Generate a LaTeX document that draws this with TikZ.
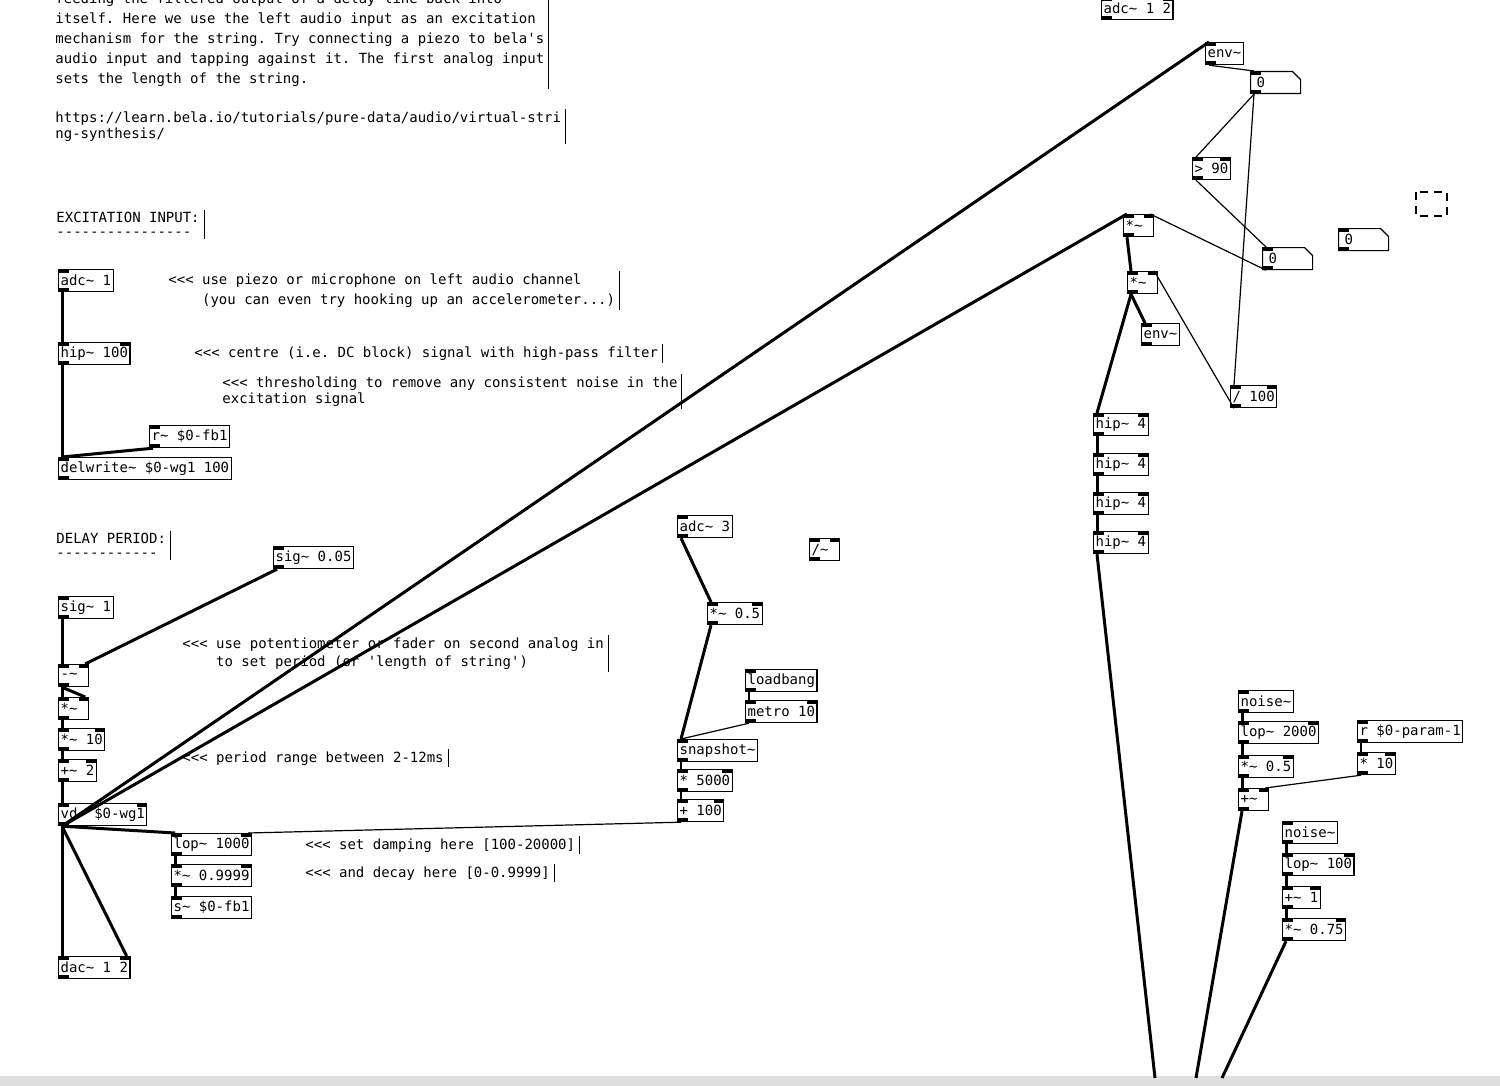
\documentclass[tikz,border=0pt]{standalone}
\usepackage{fontspec}
\setmonofont{DejaVu Sans Mono}
\usetikzlibrary{shapes.misc}
\newcommand\tl{\string~}
\begin{document}
\begin{tikzpicture}[x=0.5pt,y=-0.5pt,
  font=\ttfamily\fontsize{7}{10}\selectfont,
  box/.style={draw,line width=0.6pt,anchor=north west,minimum height=11pt,inner xsep=1pt,inner ysep=0pt,
    path picture={\fill (path picture bounding box.north west) rectangle ++(5pt,-1.6pt);
      \fill (path picture bounding box.north east) rectangle ++(-5pt,-1.6pt);
      \fill (path picture bounding box.south west) rectangle ++(5pt,1.6pt);}},
  box1/.style={draw,line width=0.6pt,anchor=north west,minimum height=11pt,inner xsep=1pt,inner ysep=0pt,
    path picture={\fill (path picture bounding box.north west) rectangle ++(5pt,-1.6pt);
      \fill (path picture bounding box.south west) rectangle ++(5pt,1.6pt);}},
  small/.style={text width=13pt,align=left},
  num/.style={draw,line width=0.6pt,anchor=north west,chamfered rectangle,chamfered rectangle corners=north east,
    chamfered rectangle xsep=2pt,chamfered rectangle ysep=2pt,
    minimum height=11pt,inner xsep=1pt,inner ysep=0pt,align=left,text width=19pt,
    path picture={\fill (path picture bounding box.north west) rectangle ++(5pt,-1.6pt);
      \fill (path picture bounding box.south west) rectangle ++(5pt,1.6pt);}},
  cmt/.style={anchor=north west,inner sep=0pt,align=left,
    append after command={([xshift=2pt,yshift=1pt]\tikzlastnode.north east) edge[line width=0.5pt] ([xshift=2pt,yshift=-1pt]\tikzlastnode.south east)}},
  sg/.style={line width=1.5pt},
  ct/.style={line width=0.6pt}]
\useasboundingbox (0,0) rectangle (1500,1086);
\clip (0,0) rectangle (1500,1086);
\fill[white] (0,0) rectangle (1500,1086);
\fill[gray!25] (0,1076) rectangle (1500,1086);
% comments
\node[cmt,font=\ttfamily\fontsize{7}{10}\selectfont] (c1) at (55,-8) {feeding the filtered output of a delay line back into\\itself. Here we use the left audio input as an excitation\\mechanism for the string. Try connecting a piezo to bela's\\audio input and tapping against it. The first analog input\\sets the length of the string.};
\node[cmt,font=\ttfamily\fontsize{7}{8}\selectfont] (c2) at (55,111) {https://learn.bela.io/tutorials/pure-data/audio/virtual-stri\\ng-synthesis/};
\node[cmt,font=\ttfamily\fontsize{7}{7}\selectfont] (c3) at (56,212) {EXCITATION INPUT:\\----------------};
\node[cmt] (c4) at (168,273) {<<< use piezo or microphone on left audio channel\\\ \ \ \ (you can even try hooking up an accelerometer...)};
\node[cmt] (c5) at (194,346) {<<< centre (i.e. DC block) signal with high-pass filter};
\node[cmt,font=\ttfamily\fontsize{7}{8}\selectfont] (c6) at (222,376) {<<< thresholding to remove any consistent noise in the\\excitation signal};
\node[cmt,font=\ttfamily\fontsize{7}{7}\selectfont] (c7) at (56,533) {DELAY PERIOD:\\------------};
\node[cmt,font=\ttfamily\fontsize{7}{9}\selectfont] (c8) at (182,637) {<<< use potentiometer or fader on second analog in\\\ \ \ \ to set period (or 'length of string')};
\node[cmt] (c9) at (182,751) {<<< period range between 2-12ms};
\node[cmt] (c10) at (305,838) {<<< set damping here [100-20000]};
\node[cmt] (c11) at (305,866) {<<< and decay here [0-0.9999]};
% left boxes
\node[box1] (adc1) at (58,269) {adc\tl{} 1};
\node[box] (hip100) at (58,342) {hip\tl{} 100};
\node[box1] (rfb1) at (149,425) {r\tl{} \$0-fb1};
\node[box1] (delw) at (58,457) {delwrite\tl{} \$0-wg1 100};
\node[box1] (sig005) at (273,546) {sig\tl{} 0.05};
\node[box1] (sig1) at (58,596) {sig\tl{} 1};
\node[box,small] (minus) at (58,664) {-\tl};
\node[box,small] (mul) at (58,697) {*\tl};
\node[box] (mul10) at (58,728) {*\tl{} 10};
\node[box] (plus2) at (58,759) {+\tl{} 2};
\node[box] (vd) at (58,803) {vd\tl{} \$0-wg1};
\node[box] (lop1000) at (171,833) {lop\tl{} 1000};
\node[box] (mul9999) at (171,864) {*\tl{} 0.9999};
\node[box1] (sfb1) at (171,896) {s\tl{} \$0-fb1};
\node[box] (dac) at (58,956) {dac\tl{} 1 2};
% middle
\node[box1] (adc3) at (677,515) {adc\tl{} 3};
\node[box,small] (divt) at (809,538) {/\tl};
\node[box] (mul05b) at (707,602) {*\tl{} 0.5};
\node[box1] (loadbang) at (745,669) {loadbang};
\node[box] (metro) at (745,700) {metro 10};
\node[box1] (snap) at (677,739) {snapshot\tl};
\node[box] (m5000) at (677,769) {* 5000};
\node[box] (p100) at (677,799) {+ 100};
% right
\node[box] (adc12) at (1101,-3) {adc\tl{} 1 2};
\node[box1] (env1) at (1205,42) {env\tl};
\node[num] (num1) at (1250,71) {0};
\node[box] (gt90) at (1192,157) {> 90};
\node[num] (num2) at (1262,247) {0};
\node[num] (num3) at (1338,228) {0};
\draw[line width=0.6pt,dash pattern=on 4pt off 3pt] (1416,192) rectangle (1447,216);
\node[box,small] (mul1) at (1123,214) {*\tl};
\node[box,small] (mul2) at (1127,271) {*\tl};
\node[box1] (env2) at (1141,323) {env\tl};
\node[box] (div100) at (1230,385) {/ 100};
\node[box] (h1) at (1093,413) {hip\tl{} 4};
\node[box] (h2) at (1093,453) {hip\tl{} 4};
\node[box] (h3) at (1093,492) {hip\tl{} 4};
\node[box] (h4) at (1093,531) {hip\tl{} 4};
\node[box1] (noise1) at (1238,690) {noise\tl};
\node[box] (lop2000) at (1238,721) {lop\tl{} 2000};
\node[box] (mul05) at (1238,755) {*\tl{} 0.5};
\node[box,small] (plus) at (1238,788) {+\tl};
\node[box1] (rparam) at (1357,720) {r \$0-param-1};
\node[box] (mul10b) at (1357,752) {* 10};
\node[box1] (noise2) at (1282,821) {noise\tl};
\node[box] (lop100) at (1282,853) {lop\tl{} 100};
\node[box] (plus1) at (1282,886) {+\tl{} 1};
\node[box] (mul075) at (1282,918) {*\tl{} 0.75};
\coordinate (o1) at (1155,1078);
\coordinate (o2) at (1196,1078);
\coordinate (o3) at (1222,1078);
% left wires
\draw[sg] ([xshift=2pt]adc1.south west) -- ([xshift=2pt]hip100.north west);
\draw[sg] ([xshift=2pt]hip100.south west) -- ([xshift=2pt]delw.north west);
\draw[sg] ([xshift=2pt]rfb1.south west) -- ([xshift=2pt]delw.north west);
\draw[sg] ([xshift=2pt]sig1.south west) -- ([xshift=2pt]minus.north west);
\draw[sg] ([xshift=2pt]sig005.south west) -- ([xshift=-2pt]minus.north east);
\draw[sg] ([xshift=2pt]minus.south west) -- ([xshift=2pt]mul.north west);
\draw[sg] ([xshift=2pt]minus.south west) -- ([xshift=-2pt]mul.north east);
\draw[sg] ([xshift=2pt]mul.south west) -- ([xshift=2pt]mul10.north west);
\draw[sg] ([xshift=2pt]mul10.south west) -- ([xshift=2pt]plus2.north west);
\draw[sg] ([xshift=2pt]plus2.south west) -- ([xshift=2pt]vd.north west);
\draw[sg] ([xshift=2pt]vd.south west) -- ([xshift=2pt]lop1000.north west);
\draw[sg] ([xshift=2pt]vd.south west) -- ([xshift=2pt]dac.north west);
\draw[sg] ([xshift=2pt]vd.south west) -- ([xshift=-2pt]dac.north east);
\draw[sg] ([xshift=2pt]vd.south west) -- ([xshift=2pt]env1.north west);
\draw[sg] ([xshift=2pt]vd.south west) -- ([xshift=2pt]mul1.north west);
\draw[sg] ([xshift=2pt]lop1000.south west) -- ([xshift=2pt]mul9999.north west);
\draw[sg] ([xshift=2pt]mul9999.south west) -- ([xshift=2pt]sfb1.north west);
\draw[ct] ([xshift=2pt]p100.south west) -- ([xshift=-2pt]lop1000.north east);
% middle wires
\draw[sg] ([xshift=2pt]adc3.south west) -- ([xshift=2pt]mul05b.north west);
\draw[sg] ([xshift=2pt]mul05b.south west) -- ([xshift=2pt]snap.north west);
\draw[ct] ([xshift=2pt]loadbang.south west) -- ([xshift=2pt]metro.north west);
\draw[ct] ([xshift=2pt]metro.south west) -- ([xshift=2pt]snap.north west);
\draw[ct] ([xshift=2pt]snap.south west) -- ([xshift=2pt]m5000.north west);
\draw[ct] ([xshift=2pt]m5000.south west) -- ([xshift=2pt]p100.north west);
% right wires
\draw[ct] ([xshift=2pt]env1.south west) -- ([xshift=2pt]num1.north west);
\draw[ct] ([xshift=2pt]num1.south west) -- ([xshift=2pt]gt90.north west);
\draw[ct] ([xshift=2pt]num1.south west) -- ([xshift=2pt]div100.north west);
\draw[ct] ([xshift=2pt]gt90.south west) -- ([xshift=2pt]num2.north west);
\draw[ct] ([xshift=2pt]num2.south west) -- ([xshift=-2pt]mul1.north east);
\draw[ct] ([xshift=2pt]div100.south west) -- ([xshift=-2pt]mul2.north east);
\draw[sg] ([xshift=2pt]mul1.south west) -- ([xshift=2pt]mul2.north west);
\draw[sg] ([xshift=2pt]mul2.south west) -- ([xshift=2pt]env2.north west);
\draw[sg] ([xshift=2pt]mul2.south west) -- ([xshift=2pt]h1.north west);
\draw[sg] ([xshift=2pt]h1.south west) -- ([xshift=2pt]h2.north west);
\draw[sg] ([xshift=2pt]h2.south west) -- ([xshift=2pt]h3.north west);
\draw[sg] ([xshift=2pt]h3.south west) -- ([xshift=2pt]h4.north west);
\draw[sg] ([xshift=2pt]h4.south west) -- (o1);
\draw[sg] ([xshift=2pt]noise1.south west) -- ([xshift=2pt]lop2000.north west);
\draw[sg] ([xshift=2pt]lop2000.south west) -- ([xshift=2pt]mul05.north west);
\draw[sg] ([xshift=2pt]mul05.south west) -- ([xshift=2pt]plus.north west);
\draw[ct] ([xshift=2pt]rparam.south west) -- ([xshift=2pt]mul10b.north west);
\draw[ct] ([xshift=2pt]mul10b.south west) -- ([xshift=-2pt]plus.north east);
\draw[sg] ([xshift=2pt]plus.south west) -- (o2);
\draw[sg] ([xshift=2pt]noise2.south west) -- ([xshift=2pt]lop100.north west);
\draw[sg] ([xshift=2pt]lop100.south west) -- ([xshift=2pt]plus1.north west);
\draw[sg] ([xshift=2pt]plus1.south west) -- ([xshift=2pt]mul075.north west);
\draw[sg] ([xshift=2pt]mul075.south west) -- (o3);
\end{tikzpicture}
\end{document}
